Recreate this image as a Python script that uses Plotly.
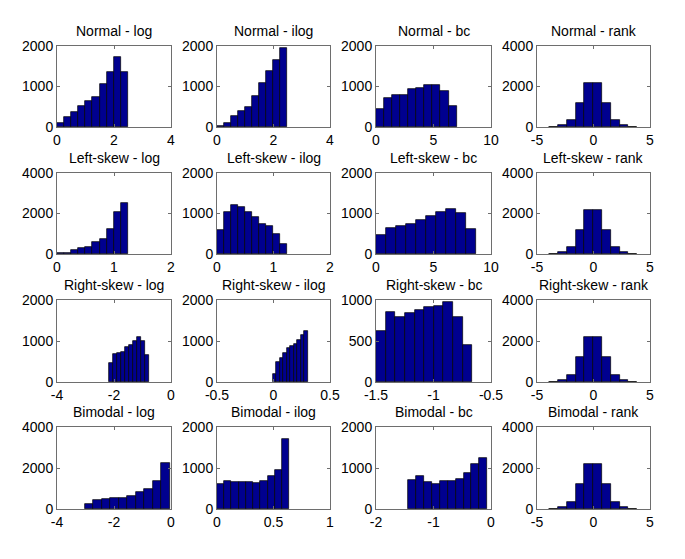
import plotly.graph_objects as go

# ---------------- data (10-bin histograms) ----------------
titles = [
    "Normal - log", "Normal - ilog", "Normal - bc", "Normal - rank",
    "Left-skew - log", "Left-skew - ilog", "Left-skew - bc", "Left-skew - rank",
    "Right-skew - log", "Right-skew - ilog", "Right-skew - bc", "Right-skew - rank",
    "Bimodal - log", "Bimodal - ilog", "Bimodal - bc", "Bimodal - rank",
]

# bin ranges (first edge, last edge) of each histogram
normal_log_range = [0.0, 2.49]
normal_ilog_range = [0.0, 2.49]
normal_bc_range = [0.0, 7.01]
left_log_range = [0.0, 1.245]
left_ilog_range = [0.0, 1.247]
left_bc_range = [0.0, 8.72]
right_log_range = [-2.19, -0.76]
right_ilog_range = [-0.006, 0.303]
right_bc_range = [-1.5, -0.662]
bimodal_log_range = [-3.03, -0.047]
bimodal_ilog_range = [0.0, 0.641]
bimodal_bc_range = [-1.443, -0.064]
rank_range = [-3.93, 3.87]

# counts of each histogram
normal_log_counts = [107, 248, 372, 512, 636, 752, 1058, 1347, 1727, 1347]
normal_ilog_counts = [25, 107, 264, 388, 496, 769, 1091, 1372, 1661, 1959]
normal_bc_counts = [455, 719, 785, 785, 950, 975, 1041, 1041, 893, 512]
left_log_counts = [50, 55, 198, 281, 364, 595, 760, 1256, 2083, 2529]
left_ilog_counts = [595, 1041, 1198, 1149, 1041, 909, 752, 694, 488, 248]
left_bc_counts = [471, 653, 702, 736, 851, 934, 1041, 1107, 1008, 620]
right_log_counts = [473, 686, 718, 735, 849, 914, 1012, 1086, 988, 653]
right_ilog_counts = [188, 498, 588, 718, 833, 890, 939, 1029, 1151, 1241]
right_bc_counts = [620, 857, 788, 845, 882, 910, 927, 971, 788, 457]
bimodal_log_counts = [246, 426, 508, 557, 557, 623, 820, 967, 1344, 2262]
bimodal_ilog_counts = [615, 680, 664, 664, 656, 639, 689, 811, 951, 1705]
bimodal_bc_counts = [713, 811, 664, 615, 689, 689, 721, 885, 1098, 1238]
rank_counts = [16, 82, 362, 1200, 2173, 2173, 1200, 362, 82, 16]

# axis ticks
x_ticks = [
    [0, 2, 4], [0, 2, 4], [0, 5, 10], [-5, 0, 5],
    [0, 1, 2], [0, 1, 2], [0, 5, 10], [-5, 0, 5],
    [-4, -2, 0], [-0.5, 0, 0.5], [-1.5, -1, -0.5], [-5, 0, 5],
    [-4, -2, 0], [0, 0.5, 1], [-2, -1, 0], [-5, 0, 5],
]
x_ticktext = [
    ["0", "2", "4"], ["0", "2", "4"], ["0", "5", "10"], ["-5", "0", "5"],
    ["0", "1", "2"], ["0", "1", "2"], ["0", "5", "10"], ["-5", "0", "5"],
    ["-4", "-2", "0"], ["-0.5", "0", "0.5"], ["-1.5", "-1", "-0.5"], ["-5", "0", "5"],
    ["-4", "-2", "0"], ["0", "0.5", "1"], ["-2", "-1", "0"], ["-5", "0", "5"],
]
y_ticks = [
    [0, 1000, 2000], [0, 1000, 2000], [0, 1000, 2000], [0, 2000, 4000],
    [0, 2000, 4000], [0, 1000, 2000], [0, 1000, 2000], [0, 2000, 4000],
    [0, 1000, 2000], [0, 1000, 2000], [0, 500, 1000], [0, 2000, 4000],
    [0, 2000, 4000], [0, 1000, 2000], [0, 1000, 2000], [0, 2000, 4000],
]

ranges = [
    normal_log_range, normal_ilog_range, normal_bc_range, rank_range,
    left_log_range, left_ilog_range, left_bc_range, rank_range,
    right_log_range, right_ilog_range, right_bc_range, rank_range,
    bimodal_log_range, bimodal_ilog_range, bimodal_bc_range, rank_range,
]
counts = [
    normal_log_counts, normal_ilog_counts, normal_bc_counts, rank_counts,
    left_log_counts, left_ilog_counts, left_bc_counts, rank_counts,
    right_log_counts, right_ilog_counts, right_bc_counts, rank_counts,
    bimodal_log_counts, bimodal_ilog_counts, bimodal_bc_counts, rank_counts,
]

# ---------------- layout (pixel boxes in the 685x559 window) ----------------
PAGE_OFF = 8                      # default body margin of the html page
W, H = 685 - 2 * PAGE_OFF, 559 - 2 * PAGE_OFF
col_px = [(57, 171), (217, 330), (376, 491), (537, 650)]
row_px = [(46, 127), (173, 254), (300, 382), (427, 509)]

FONT = "Liberation Sans, Arial, Helvetica, sans-serif"
AXCOL = "#6e6e6e"

fig = go.Figure()
annotations = []
layout_axes = {}

for i in range(16):
    r, c = divmod(i, 4)
    n = i + 1
    xa = "x" if n == 1 else f"x{n}"
    ya = "y" if n == 1 else f"y{n}"
    lo, hi = ranges[i]
    cnt = counts[i]
    w = (hi - lo) / len(cnt)
    centers = [lo + (k + 0.5) * w for k in range(len(cnt))]
    fig.add_trace(go.Bar(
        x=centers, y=cnt, width=[w] * len(cnt),
        marker=dict(color="#00008f", line=dict(color="black", width=0.7)),
        xaxis=xa, yaxis=ya, showlegend=False, hoverinfo="x+y",
    ))
    x0, x1 = (p - PAGE_OFF for p in col_px[c])
    y0, y1 = (p - PAGE_OFF for p in row_px[r])
    common = dict(
        showline=True, linecolor=AXCOL, linewidth=1, mirror="ticks",
        ticks="inside", ticklen=3, tickcolor=AXCOL, tickwidth=1,
        showgrid=False, zeroline=False, fixedrange=True, automargin=False,
        tickfont=dict(family=FONT, size=14, color="black"),
    )
    layout_axes["xaxis" if n == 1 else f"xaxis{n}"] = dict(
        domain=[x0 / W, x1 / W],
        anchor=ya,
        range=[x_ticks[i][0], x_ticks[i][-1]],
        tickmode="array", tickvals=x_ticks[i], ticktext=x_ticktext[i],
        **common,
    )
    layout_axes["yaxis" if n == 1 else f"yaxis{n}"] = dict(
        domain=[1 - y1 / H, 1 - y0 / H],
        anchor=xa,
        range=[y_ticks[i][0], y_ticks[i][-1]],
        tickmode="array", tickvals=y_ticks[i],
        ticktext=[str(v) for v in y_ticks[i]],
        **common,
    )
    annotations.append(dict(
        text=titles[i], xref="paper", yref="paper",
        x=(x0 + x1) / 2 / W, y=1 - (y0 - 15) / H,
        xanchor="center", yanchor="middle", showarrow=False,
        font=dict(family=FONT, size=14, color="black"),
    ))

fig.update_layout(
    template="none",
    width=W, height=H,
    margin=dict(l=0, r=0, t=0, b=0, pad=0),
    paper_bgcolor="white", plot_bgcolor="white",
    bargap=0, annotations=annotations,
    **layout_axes,
)

fig.write_html("out.html")
